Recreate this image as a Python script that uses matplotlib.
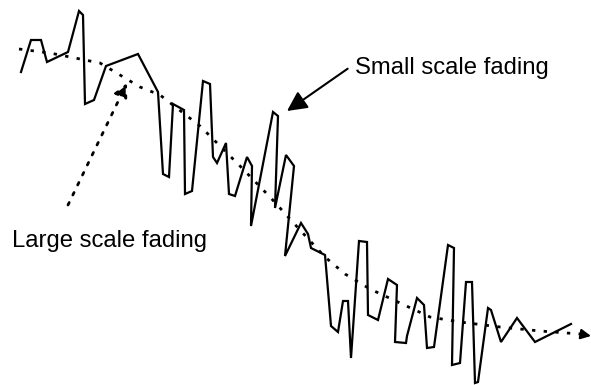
import matplotlib.pyplot as plt

# received signal (y grows downward)
sig_x = [21, 31, 41, 47, 68, 79, 83, 85, 94, 106, 138, 158, 163, 169, 173, 184, 185, 192,
         203, 210, 213, 217, 226, 229, 235, 247, 252, 251, 273, 278, 275, 286, 294, 285,
         301, 308, 311, 325, 331, 338, 343, 348, 351, 359, 367, 368, 378, 388, 397, 395,
         406, 407, 417, 424, 427, 434, 448, 454, 452, 460, 466, 472, 475, 478, 488, 491,
         501, 517, 535, 571]
sig_y = [72, 40, 40, 62, 52, 11, 15, 104, 100, 66, 54, 92, 174, 177, 104, 110, 194, 191,
         81, 84, 157, 163, 143, 194, 196, 157, 166, 226, 112, 116, 208, 155, 166, 256,
         223, 234, 248, 255, 326, 332, 301, 301, 358, 241, 242, 315, 320, 279, 285, 342,
         343, 336, 298, 305, 348, 347, 245, 248, 365, 363, 282, 282, 383, 382, 308, 310,
         342, 318, 342, 324]

# large scale trend
trend_x = [19, 50, 100, 140, 160, 200, 240, 270, 300, 325, 345, 370, 400, 430, 460, 500, 540, 580]
trend_y = [49, 53, 63, 87, 95, 126, 166, 197, 230, 257, 274, 289, 303, 317, 322, 327, 331, 334]

fig = plt.figure(figsize=(5.91, 3.85), dpi=100)
ax = fig.add_axes([0, 0, 1, 1])
ax.set_xlim(0, 591)
ax.set_ylim(385, 0)
ax.axis("off")

ax.plot(sig_x, sig_y, color="black", lw=1.6, solid_joinstyle="miter")
ax.plot(trend_x, trend_y, color="black", lw=2, linestyle=(0, (1.2, 3)))
ax.annotate("", xy=(591, 336), xytext=(trend_x[-1], trend_y[-1]),
            arrowprops=dict(arrowstyle="-|>,head_length=0.6,head_width=0.3",
                            color="black", lw=1.5, shrinkA=0, shrinkB=0))

ax.annotate("Small scale fading", xy=(287, 111), xytext=(355, 68),
            fontsize=17.2, fontfamily="Liberation Sans", va="center", ha="left",
            arrowprops=dict(arrowstyle="-|>,head_length=0.7,head_width=0.35",
                            color="black", lw=1.5, shrinkA=4, shrinkB=0,
                            relpos=(0, 0.7)))

ax.annotate("", xy=(127, 83), xytext=(68, 205),
            arrowprops=dict(arrowstyle="-|>,head_length=0.8,head_width=0.4",
                            color="black", lw=2, linestyle=(0, (1, 3)),
                            shrinkA=0, shrinkB=0))
ax.text(12, 241, "Large scale fading", fontsize=17.2, fontfamily="Liberation Sans",
        va="center", ha="left")

fig.savefig("out.png", dpi=100)
